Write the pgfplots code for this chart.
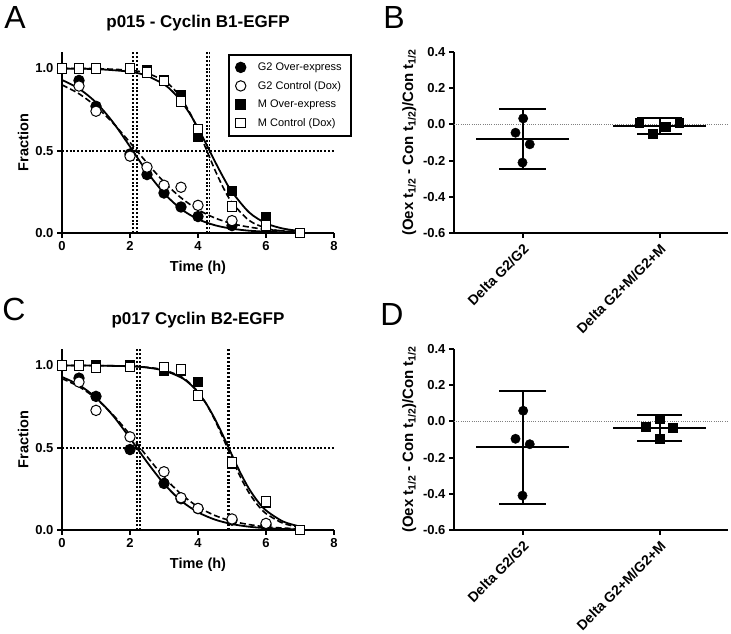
\documentclass[border=0pt]{standalone}
\usepackage{fontspec}
\setmainfont{Liberation Sans}
\usepackage{pgfplots}
\pgfplotsset{compat=1.18}
\pgfplotsset{
 gp/.style={
  scale only axis, clip=false,
  axis x line*=bottom, axis y line*=left,
  axis line style={line width=2pt},
  tick style={line width=2pt, black},
  tick align=outside, major tick length=5pt,
  tick label style={font=\fontsize{13}{15}\selectfont\bfseries},
  label style={font=\fontsize{14.5}{16}\selectfont\bfseries},
  /pgf/number format/assume math mode=true,
  yticklabel style={/pgf/number format/.cd, fixed, fixed zerofill, precision=1},
  title style={font=\fontsize{17}{20}\selectfont\bfseries, at={(0.5,1)}, anchor=south, yshift=11pt},
 },
 fit solid/.style={black, line width=1.8pt, smooth, no marks, forget plot},
 fit dashed/.style={black, line width=1.6pt, dash pattern=on 6pt off 3pt, smooth, no marks, forget plot},
 ref line/.style={black, line width=1.6pt, dash pattern=on 2pt off 1.8pt, no marks, forget plot},
 bar line/.style={black, line width=2pt, no marks, forget plot},
 fcirc/.style={only marks, mark=*, mark size=5.2pt, line width=1pt, black, mark options={fill=black}},
 ocirc/.style={only marks, mark=*, mark size=5.2pt, line width=1pt, black, mark options={fill=white}},
 fsq/.style={only marks, mark=square*, mark size=4.8pt, line width=1pt, black, mark options={fill=black}},
 osq/.style={only marks, mark=square*, mark size=4.8pt, line width=1pt, black, mark options={fill=white}},
 scat/.style={gp, width=274pt, height=181pt, xmin=-0.5, xmax=1.5, ymin=-0.6, ymax=0.4,
  xtick={0,1}, xticklabels={Delta G2/G2, Delta G2+M/G2+M},
  ytick={-0.6,-0.4,-0.2,0,0.2,0.4},
  xticklabel style={rotate=45, anchor=north east, font=\fontsize{14}{16}\selectfont\bfseries},
  ylabel={(Oex t\textsubscript{1/2} - Con t\textsubscript{1/2})/Con t\textsubscript{1/2}},
  ylabel style={font=\fontsize{15}{17}\selectfont\bfseries}},
 kin/.style={gp, width=272pt, height=181pt, xmin=0, xmax=8, ymin=0, ymax=1.1,
  xtick={0,2,4,6,8}, ytick={0,0.5,1}, xlabel={Time (h)}, ylabel={Fraction},
  xlabel style={at={(axis description cs:0.5,0)}, anchor=north, yshift=-24pt}},
}
\begin{document}
\begin{tikzpicture}
\path[use as bounding box] (0pt,0pt) rectangle (731pt,634pt);
% ---------------- Panel A ----------------
\begin{axis}[kin, at={(62pt,401pt)}, anchor=south west,
  title={p015 - Cyclin B1-EGFP},
  legend style={at={(1.065,0.99)}, anchor=north east, draw=black, line width=2pt,
    font=\fontsize{11}{13}\selectfont, row sep=5.2pt, inner xsep=7pt, inner ysep=6pt,
    /tikz/every odd column/.append style={column sep=10pt}},
  legend cell align=left]
\addplot[ref line] coordinates {(0,0.5) (8,0.5)};
\addplot[ref line] coordinates {(2.08,0) (2.08,1.1)};
\addplot[ref line] coordinates {(2.2,0) (2.2,1.1)};
\addplot[ref line] coordinates {(4.26,0) (4.26,1.1)};
\addplot[ref line] coordinates {(4.34,0) (4.34,1.1)};
\addplot[fit solid] coordinates {(0,0.930)(0.5,0.877)(1,0.793)(1.5,0.673)(2,0.525)(2.5,0.372)(3,0.242)(3.5,0.146)(4,0.084)(4.5,0.047)(5,0.026)(5.5,0.014)(6,0.008)(6.5,0.004)(7,0.002)};
\addplot[fit dashed] coordinates {(0,0.900)(0.5,0.846)(1,0.769)(1.5,0.668)(2,0.550)(2.5,0.426)(3,0.310)(3.5,0.214)(4,0.142)(4.5,0.091)(5,0.057)(5.5,0.036)(6,0.022)(6.5,0.013)(7,0.008)};
\addplot[fit solid] coordinates {(0,0.999)(1,0.996)(2,0.980)(2.5,0.955)(3,0.903)(3.25,0.860)(3.5,0.802)(3.75,0.728)(4,0.638)(4.25,0.537)(4.5,0.434)(4.75,0.336)(5,0.250)(5.5,0.126)(6,0.059)(6.5,0.027)(7,0.012)};
\addplot[fit dashed] coordinates {(0,1.000)(1,0.999)(2,0.989)(2.5,0.971)(3,0.926)(3.25,0.883)(3.5,0.821)(3.75,0.735)(4,0.627)(4.25,0.505)(4.5,0.382)(4.75,0.273)(5,0.185)(5.5,0.077)(6,0.030)(6.5,0.011)(7,0.004)};
\addplot[fcirc] coordinates {(0.5,0.927)(1,0.77)(2,0.48)(2.5,0.355)(3,0.243)(3.5,0.158)(4,0.10)(5,0.045)};
\addlegendentry{G2 Over-express}
\addplot[ocirc] coordinates {(0.5,0.893)(1,0.74)(2,0.467)(2.5,0.40)(3,0.29)(3.5,0.278)(4,0.168)(5,0.075)};
\addlegendentry{G2 Control (Dox)}
\addplot[fsq] coordinates {(0,1)(0.5,1)(1,1)(2,1)(2.5,0.988)(3,0.925)(3.5,0.838)(4,0.584)(5,0.254)(6,0.097)(7,0)};
\addlegendentry{M Over-express}
\addplot[osq] coordinates {(0,1)(0.5,1)(1,1)(2,1)(2.5,0.974)(3,0.923)(3.5,0.80)(4,0.633)(5,0.162)(6,0.047)(7,0)};
\addlegendentry{M Control (Dox)}
\end{axis}
% ---------------- Panel B ----------------
\begin{axis}[scat, at={(454pt,401pt)}, anchor=south west]
\addplot[gray, line width=0.7pt, dash pattern=on 1pt off 1.2pt, no marks, forget plot] coordinates {(-0.5,0) (1.5,0)};
\addplot[bar line] coordinates {(0,-0.246) (0,0.083)};
\addplot[bar line] coordinates {(-0.168,0.083) (0.168,0.083)};
\addplot[bar line] coordinates {(-0.168,-0.246) (0.168,-0.246)};
\addplot[bar line] coordinates {(-0.336,-0.083) (0.336,-0.083)};
\addplot[bar line] coordinates {(1,-0.055) (1,0.033)};
\addplot[bar line] coordinates {(0.836,0.033) (1.164,0.033)};
\addplot[bar line] coordinates {(0.836,-0.055) (1.164,-0.055)};
\addplot[bar line] coordinates {(0.664,-0.011) (1.336,-0.011)};
\addplot[only marks, mark=*, mark size=4.7pt, black] coordinates {(0.005,0.033)(-0.051,-0.046)(0.053,-0.110)(0,-0.211)};
\addplot[only marks, mark=square*, mark size=4.4pt, black] coordinates {(0.852,0.009)(0.949,-0.053)(1.046,-0.013)(1.144,0.009)};
\end{axis}
% ---------------- Panel C ----------------
\begin{axis}[kin, at={(62pt,104pt)}, anchor=south west,
  title={p017 Cyclin B2-EGFP}]
\addplot[ref line] coordinates {(0,0.5) (8,0.5)};
\addplot[ref line] coordinates {(2.2,0) (2.2,1.1)};
\addplot[ref line] coordinates {(2.3,0) (2.3,1.1)};
\addplot[ref line] coordinates {(4.88,0) (4.88,1.1)};
\addplot[ref line] coordinates {(4.92,0) (4.92,1.1)};
\addplot[fit solid] coordinates {(0,0.930)(0.5,0.881)(1,0.804)(1.5,0.695)(2,0.558)(2.5,0.413)(3,0.281)(3.5,0.178)(4,0.108)(4.5,0.063)(5,0.036)(5.5,0.020)(6,0.011)(6.5,0.006)(7,0.004)};
\addplot[fit dashed] coordinates {(0,0.920)(0.5,0.871)(1,0.799)(1.5,0.700)(2,0.579)(2.5,0.447)(3,0.322)(3.5,0.219)(4,0.141)(4.5,0.088)(5,0.054)(5.5,0.033)(6,0.019)(6.5,0.012)(7,0.007)};
\addplot[fit solid] coordinates {(0,1.000)(1,0.999)(2,0.995)(2.5,0.987)(3,0.969)(3.5,0.927)(3.75,0.890)(4,0.837)(4.25,0.765)(4.5,0.674)(4.75,0.568)(5,0.455)(5.25,0.346)(5.5,0.251)(5.75,0.176)(6,0.119)(6.5,0.052)(7,0.021)};
\addplot[fit dashed] coordinates {(0,1.000)(1,0.999)(2,0.996)(2.5,0.989)(3,0.973)(3.5,0.932)(3.75,0.894)(4,0.839)(4.25,0.764)(4.5,0.666)(4.75,0.553)(5,0.433)(5.25,0.321)(5.5,0.226)(5.75,0.153)(6,0.100)(6.5,0.041)(7,0.016)};
\addplot[fcirc] coordinates {(0.5,0.923)(1,0.812)(2,0.489)(3,0.283)(3.5,0.19)(4,0.13)(5,0.06)(6,0.03)};
\addplot[ocirc] coordinates {(0.5,0.899)(1,0.727)(2,0.566)(3,0.354)(3.5,0.196)(4,0.131)(5,0.067)(6,0.04)};
\addplot[fsq] coordinates {(0,1)(0.5,1)(1,1)(2,1)(3,0.966)(3.5,0.97)(4,0.899)(5,0.40)(6,0.165)(7,0)};
\addplot[osq] coordinates {(0,1)(0.5,1)(1,0.984)(2,0.99)(3,0.99)(3.5,0.974)(4,0.818)(5,0.41)(6,0.172)(7,0)};
\end{axis}
% ---------------- Panel D ----------------
\begin{axis}[scat, at={(454pt,104pt)}, anchor=south west]
\addplot[gray, line width=0.7pt, dash pattern=on 1pt off 1.2pt, no marks, forget plot] coordinates {(-0.5,0) (1.5,0)};
\addplot[bar line] coordinates {(0,-0.454) (0,0.169)};
\addplot[bar line] coordinates {(-0.168,0.169) (0.168,0.169)};
\addplot[bar line] coordinates {(-0.168,-0.454) (0.168,-0.454)};
\addplot[bar line] coordinates {(-0.336,-0.142) (0.336,-0.142)};
\addplot[bar line] coordinates {(1,-0.106) (1,0.035)};
\addplot[bar line] coordinates {(0.836,0.035) (1.164,0.035)};
\addplot[bar line] coordinates {(0.836,-0.106) (1.164,-0.106)};
\addplot[bar line] coordinates {(0.664,-0.035) (1.336,-0.035)};
\addplot[only marks, mark=*, mark size=4.7pt, black] coordinates {(0.005,0.059)(-0.051,-0.096)(0.053,-0.126)(0,-0.41)};
\addplot[only marks, mark=square*, mark size=4.4pt, black] coordinates {(0.9,-0.028)(1.0,0.014)(1.097,-0.035)(1.0,-0.094)};
\end{axis}
% ---------------- Panel letters ----------------
\node[font=\fontsize{32}{36}\selectfont] at (15pt,616pt) {A};
\node[font=\fontsize{32}{36}\selectfont] at (394pt,616pt) {B};
\node[font=\fontsize{32}{36}\selectfont] at (14pt,325pt) {C};
\node[font=\fontsize{32}{36}\selectfont] at (392pt,320pt) {D};
\end{tikzpicture}
\end{document}
